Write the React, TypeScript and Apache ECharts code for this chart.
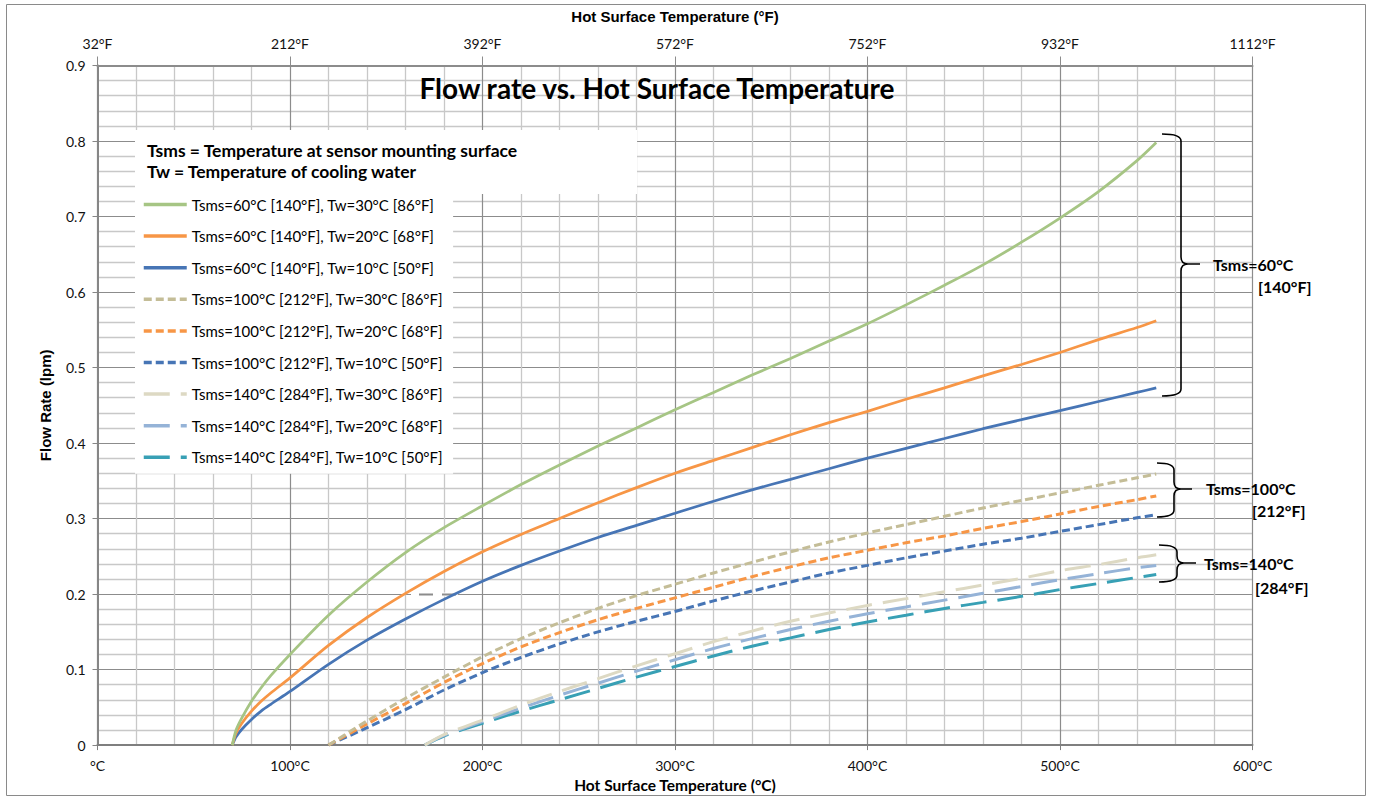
import React, { useEffect, useRef } from 'react';
import * as echarts from 'echarts';

// ---------- data ----------
const seriesNames = [
  'Tsms=60°C [140°F], Tw=30°C [86°F]',
  'Tsms=60°C [140°F], Tw=20°C [68°F]',
  'Tsms=60°C [140°F], Tw=10°C [50°F]',
  'Tsms=100°C [212°F], Tw=30°C [86°F]',
  'Tsms=100°C [212°F], Tw=20°C [68°F]',
  'Tsms=100°C [212°F], Tw=10°C [50°F]',
  'Tsms=140°C [284°F], Tw=30°C [86°F]',
  'Tsms=140°C [284°F], Tw=20°C [68°F]',
  'Tsms=140°C [284°F], Tw=10°C [50°F]',
];

const temps60 = [70, 72, 75, 80, 85, 90, 100, 120, 140, 160, 180, 200, 220, 240, 260, 280, 300, 320, 340, 360, 380, 400, 420, 440, 460, 480, 500, 520, 540, 550];
const flow60Tw30 = [0, 0.020, 0.036, 0.058, 0.076, 0.092, 0.120, 0.172, 0.216, 0.255, 0.288, 0.317, 0.345, 0.371, 0.396, 0.420, 0.444, 0.467, 0.490, 0.512, 0.535, 0.558, 0.583, 0.609, 0.636, 0.666, 0.698, 0.733, 0.774, 0.798];
const flow60Tw20 = [0, 0.016, 0.029, 0.045, 0.058, 0.069, 0.089, 0.132, 0.169, 0.201, 0.230, 0.256, 0.279, 0.300, 0.321, 0.341, 0.360, 0.377, 0.394, 0.411, 0.427, 0.442, 0.458, 0.473, 0.489, 0.504, 0.520, 0.537, 0.553, 0.562];
const flow60Tw10 = [0, 0.011, 0.021, 0.034, 0.045, 0.054, 0.071, 0.107, 0.139, 0.167, 0.193, 0.217, 0.238, 0.257, 0.275, 0.291, 0.307, 0.323, 0.338, 0.352, 0.366, 0.380, 0.393, 0.406, 0.419, 0.431, 0.443, 0.455, 0.467, 0.473];

const temps100 = [120, 140, 160, 180, 200, 220, 240, 260, 280, 300, 320, 340, 360, 380, 400, 420, 440, 460, 480, 500, 520, 540, 550];
const flow100Tw30 = [0, 0.032, 0.062, 0.090, 0.117, 0.141, 0.162, 0.181, 0.198, 0.213, 0.228, 0.242, 0.256, 0.269, 0.281, 0.292, 0.303, 0.314, 0.324, 0.334, 0.344, 0.354, 0.359];
const flow100Tw20 = [0, 0.028, 0.055, 0.083, 0.108, 0.130, 0.149, 0.166, 0.181, 0.195, 0.209, 0.223, 0.236, 0.248, 0.258, 0.268, 0.277, 0.287, 0.296, 0.306, 0.316, 0.325, 0.330];
const flow100Tw10 = [0, 0.023, 0.047, 0.073, 0.096, 0.116, 0.134, 0.150, 0.164, 0.177, 0.191, 0.204, 0.216, 0.228, 0.238, 0.248, 0.257, 0.266, 0.274, 0.283, 0.292, 0.301, 0.305];

const temps140 = [170, 180, 200, 220, 240, 260, 280, 300, 320, 340, 360, 380, 400, 420, 440, 460, 480, 500, 520, 540, 550];
const flow140Tw30 = [0, 0.014, 0.033, 0.053, 0.071, 0.088, 0.105, 0.121, 0.137, 0.151, 0.164, 0.175, 0.185, 0.194, 0.203, 0.212, 0.221, 0.231, 0.239, 0.248, 0.252];
const flow140Tw20 = [0, 0.013, 0.031, 0.049, 0.066, 0.082, 0.098, 0.113, 0.128, 0.141, 0.153, 0.164, 0.174, 0.183, 0.192, 0.201, 0.210, 0.219, 0.227, 0.235, 0.238];
const flow140Tw10 = [0, 0.012, 0.029, 0.045, 0.060, 0.075, 0.090, 0.104, 0.118, 0.131, 0.142, 0.153, 0.163, 0.172, 0.181, 0.189, 0.197, 0.206, 0.214, 0.222, 0.226];

const xMin = 0;
const xMax = 600;
const xInterval = 100;
const yMin = 0;
const yMax = 0.9;
const yInterval = 0.1;

const groupLabels = [
  ['Tsms=60°C', '[140°F]'],
  ['Tsms=100°C', '[212°F]'],
  ['Tsms=140°C', '[284°F]'],
];

// ---------- styles ----------
const colors = ['#A6C584', '#F79646', '#4775B5', '#C4BD97', '#F79646', '#4775B5', '#DDD9C3', '#95B3D7', '#38A0B5'];
const FONT = 'Lato, "Open Sans", sans-serif';
const ARIAL = '"Liberation Sans Narrow", "Liberation Sans", Arial, sans-serif';

const Brace = (echarts.graphic as any).extendShape({
  type: 'brace',
  shape: { x0: 0, stem: 0, top: 0, mid: 0, bottom: 0, tip: 0, r: 6 },
  buildPath(ctx: any, s: any) {
    const r = s.r;
    ctx.moveTo(s.x0, s.top);
    ctx.quadraticCurveTo(s.stem, s.top, s.stem, s.top + r);
    ctx.lineTo(s.stem, s.mid - r);
    ctx.quadraticCurveTo(s.stem, s.mid, s.stem + r, s.mid);
    ctx.lineTo(s.tip, s.mid);
    ctx.moveTo(s.stem + r, s.mid);
    ctx.quadraticCurveTo(s.stem, s.mid, s.stem, s.mid + r);
    ctx.lineTo(s.stem, s.bottom - r);
    ctx.quadraticCurveTo(s.stem, s.bottom, s.x0, s.bottom);
  },
});
(echarts.graphic as any).registerShape('brace', Brace);

function zip(xs: number[], ys: number[]) {
  return xs.map((x, i) => [x, ys[i]]);
}

export default function App() {
  const ref = useRef<HTMLDivElement>(null);

  useEffect(() => {
    if (!ref.current) return;
    const chart = echarts.init(ref.current, undefined, { renderer: 'svg' });

    const dataSets = [
      zip(temps60, flow60Tw30),
      zip(temps60, flow60Tw20),
      zip(temps60, flow60Tw10),
      zip(temps100, flow100Tw30),
      zip(temps100, flow100Tw20),
      zip(temps100, flow100Tw10),
      zip(temps140, flow140Tw30),
      zip(temps140, flow140Tw20),
      zip(temps140, flow140Tw10),
    ];

    const series = dataSets.map((d, i) => {
      const group = Math.floor(i / 3);
      const type: any = group === 0 ? 'solid' : group === 1 ? [8, 4] : [26, 11];
      return {
        name: seriesNames[i],
        type: 'line',
        xAxisIndex: 0,
        yAxisIndex: 0,
        data: d,
        smooth: 0.3,
        symbol: 'none',
        showSymbol: false,
        color: colors[i],
        lineStyle: { color: colors[i], width: group === 0 ? 2.75 : 3, type, cap: 'butt' },
        z: 2 + (9 - i) * 0.01,
      };
    });

    const braces = [
      { x0: 1162, stem: 1181, top: 134, mid: 264, bottom: 396, tip: 1200 },
      { x0: 1157, stem: 1174, top: 463, mid: 489, bottom: 517, tip: 1192 },
      { x0: 1159, stem: 1177, top: 545, mid: 563, bottom: 582, tip: 1196 },
    ];
    const labelPos = [
      { x1: 1213, y1: 264, x2: 1258, y2: 286 },
      { x1: 1206, y1: 488, x2: 1252, y2: 510 },
      { x1: 1204, y1: 563, x2: 1255, y2: 587 },
    ];

    const graphic: any[] = [
      {
        type: 'rect',
        shape: { x: 6.5, y: 4.5, width: 1359, height: 791 },
        style: { fill: 'none', stroke: '#8a8a8a', lineWidth: 1 },
        z: 0,
        silent: true,
      },
      {
        type: 'text',
        x: 657,
        y: 88,
        z: 10,
        style: {
          text: 'Flow rate vs. Hot Surface Temperature',
          font: `bold 28px ${FONT}`,
          fill: '#000',
          textAlign: 'center',
          textVerticalAlign: 'middle',
          verticalAlign: 'middle',
        },
      },
      {
        type: 'rect',
        shape: { x: 135, y: 130, width: 502, height: 64 },
        style: { fill: '#fff' },
        z: 5,
      },
      {
        type: 'text',
        x: 147,
        y: 150,
        z: 6,
        style: {
          text: 'Tsms = Temperature at sensor mounting surface',
          font: `bold 17.5px ${FONT}`,
          fill: '#000',
          textVerticalAlign: 'middle',
          verticalAlign: 'middle',
        },
      },
      {
        type: 'text',
        x: 147,
        y: 171,
        z: 6,
        style: {
          text: 'Tw = Temperature of cooling water',
          font: `bold 17.5px ${FONT}`,
          fill: '#000',
          textVerticalAlign: 'middle',
          verticalAlign: 'middle',
        },
      },
      // small gray dashed leftover segment on the 0.2 gridline
      {
        type: 'rect',
        shape: { x: 411, y: 592.5, width: 47, height: 4 },
        style: { fill: '#fff' },
        z: 1,
        silent: true,
      },
      {
        type: 'line',
        shape: { x1: 419, y1: 594.5, x2: 456, y2: 594.5 },
        style: { stroke: '#8c8c8c', lineWidth: 2, lineDash: [14, 9] },
        z: 1,
        silent: true,
      },
    ];

    braces.forEach((b) => {
      graphic.push({
        type: 'brace',
        shape: { ...b, r: 7 },
        style: { fill: 'none', stroke: '#000', lineWidth: 1.6 },
        z: 10,
      });
    });
    labelPos.forEach((p, i) => {
      graphic.push({
        type: 'text',
        x: p.x1,
        y: p.y1,
        z: 10,
        style: {
          text: groupLabels[i][0],
          font: `bold 16px ${FONT}`,
          fill: '#000',
          textVerticalAlign: 'middle',
          verticalAlign: 'middle',
        },
      });
      graphic.push({
        type: 'text',
        x: p.x2,
        y: p.y2,
        z: 10,
        style: {
          text: groupLabels[i][1],
          font: `bold 16px ${FONT}`,
          fill: '#000',
          textVerticalAlign: 'middle',
          verticalAlign: 'middle',
        },
      });
    });

    const option: any = {
      animation: false,
      backgroundColor: '#fff',
      grid: { left: 97.5, right: 126.5, top: 65.5, bottom: 52.3, containLabel: false },
      legend: {
        show: true,
        orient: 'vertical',
        left: 135,
        top: 192,
        padding: [5, 10, 9, 7],
        backgroundColor: '#fff',
        itemWidth: 43,
        itemHeight: 14,
        itemGap: 16.6,
        itemStyle: { opacity: 0, color: 'transparent', borderWidth: 0 },
        lineStyle: { width: 3.5 },
        textStyle: { fontFamily: FONT, fontSize: 15, color: '#000', lineHeight: 14 },
        data: seriesNames,
        z: 6,
      },
      xAxis: [
        {
          type: 'value',
          position: 'bottom',
          min: xMin,
          max: xMax,
          interval: xInterval,
          name: 'Hot Surface Temperature (°C)',
          nameLocation: 'middle',
          nameGap: 26,
          nameTextStyle: { fontFamily: FONT, fontWeight: 'bold', fontSize: 15.5, color: '#000' },
          axisLine: { show: true, onZero: false, lineStyle: { color: '#7f7f7f', width: 2 } },
          axisTick: { show: true, length: 5, lineStyle: { color: '#7f7f7f', width: 1 } },
          axisLabel: {
            margin: 13,
            fontFamily: FONT,
            fontSize: 14,
            color: '#111',
            formatter: (v: number) => (v === 0 ? '°C' : `${v}°C`),
          },
          splitLine: { show: true, lineStyle: { color: '#8c8c8c', width: 1.2 } },
          minorTick: { show: false, splitNumber: 5 },
          minorSplitLine: { show: true, lineStyle: { color: '#c8c8c8', width: 1.3 } },
        },
        {
          type: 'value',
          position: 'top',
          min: xMin,
          max: xMax,
          interval: xInterval,
          name: 'Hot Surface Temperature (°F)',
          nameLocation: 'middle',
          nameGap: 42,
          nameTextStyle: { fontFamily: ARIAL, fontWeight: 'bold', fontSize: 15, color: '#000' },
          axisLine: { show: true, onZero: false, lineStyle: { color: '#8c8c8c', width: 2 } },
          axisTick: { show: true, length: 9, lineStyle: { color: '#8c8c8c', width: 1 } },
          axisLabel: {
            margin: 15,
            fontFamily: FONT,
            fontSize: 14,
            color: '#111',
            formatter: (v: number) => `${Math.round((v * 9) / 5 + 32)}°F`,
          },
          splitLine: { show: false },
        },
      ],
      yAxis: [
        {
          type: 'value',
          min: yMin,
          max: yMax,
          interval: yInterval,
          name: 'Flow Rate (lpm)',
          nameLocation: 'middle',
          nameGap: 45,
          nameRotate: 90,
          nameTextStyle: { fontFamily: ARIAL, fontWeight: 'bold', fontSize: 15, color: '#000' },
          axisLine: { show: true, lineStyle: { color: '#868686', width: 2 } },
          axisTick: { show: true, length: 5, lineStyle: { color: '#868686', width: 1 } },
          axisLabel: {
            margin: 12,
            fontFamily: FONT,
            fontSize: 14,
            color: '#111',
            formatter: (v: number) => (v === 0 ? '0' : v.toFixed(1)),
          },
          splitLine: { show: true, lineStyle: { color: '#8c8c8c', width: 1.2 } },
          minorTick: { show: false, splitNumber: 5 },
          minorSplitLine: { show: true, lineStyle: { color: '#c8c8c8', width: 1.3 } },
        },
      ],
      series,
      graphic,
    };

    chart.setOption(option);
    return () => {
      chart.dispose();
    };
  }, []);

  return (
    <div
      ref={ref}
      style={{ position: 'fixed', left: 0, top: 0, width: 1379, height: 798, background: '#fff' }}
    />
  );
}
